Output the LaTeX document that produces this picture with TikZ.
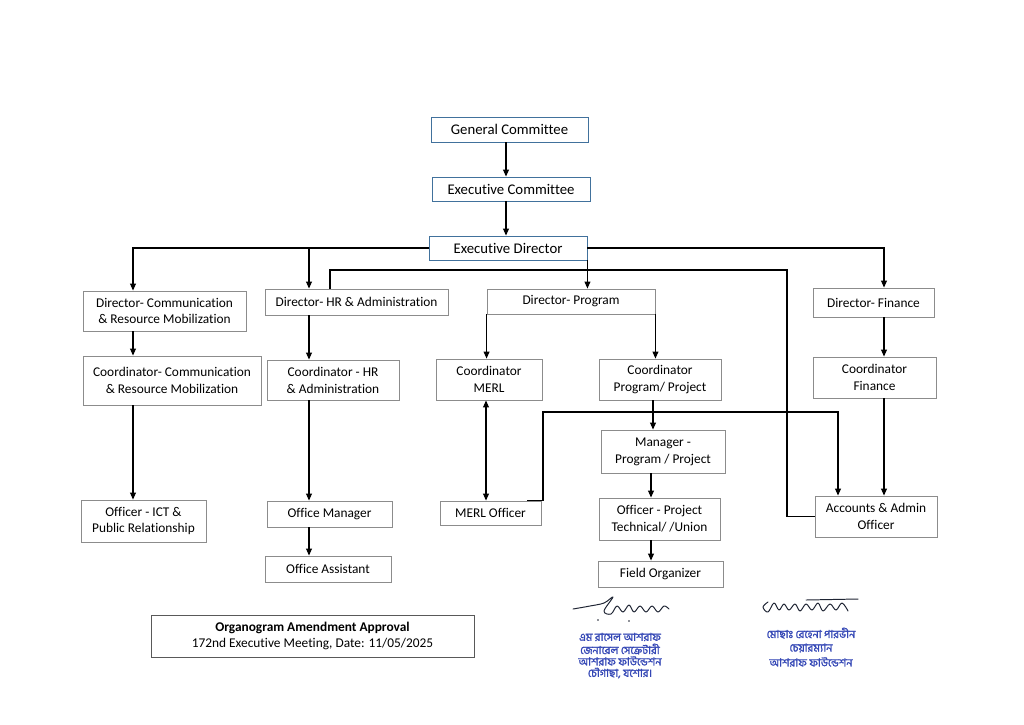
\documentclass[tikz,border=0pt]{standalone}
\usepackage{fontspec}
\setmainfont{Carlito}[Ligatures=NoCommon]
\newfontfamily\bnfont[Script=Bengali, FakeBold=1.6]{Hind Siliguri}
\usetikzlibrary{arrows.meta, positioning, calc}
\definecolor{boxgray}{HTML}{8C8C8C}
\definecolor{boxblue}{HTML}{41719C}
\definecolor{stampblue}{HTML}{3447B5}
\definecolor{inkdark}{HTML}{1E2433}
\tikzset{
  obox/.style={rectangle, draw=#1, line width=0.6pt, inner sep=0pt, align=center,
               font=\fontsize{9.5}{12}\selectfont},
  obox/.default=boxgray,
  topbox/.style={obox=boxblue, font=\fontsize{10.5}{12}\selectfont},
  arr/.style={-{Triangle[length=5pt, width=4.2pt]}, line width=0.8pt, #1},
  arr/.default=black,
  darr/.style={{Triangle[length=5pt, width=4.2pt]}-{Triangle[length=5pt, width=4.2pt]}, line width=0.8pt},
  link/.style={line width=0.8pt},
  sig/.style={draw=inkdark, line width=0.7pt, line cap=round, line join=round},
  stamp/.style={font=\bnfont\fontsize{7.8}{8}\selectfont, text=stampblue, inner sep=0pt},
}

\begin{document}
\begin{tikzpicture}[x=0.025cm, y=-0.025cm]
  \useasboundingbox (0,0) rectangle (1024,724);

  % Top of the organisation
  \node[topbox, minimum width=3.925cm, minimum height=0.625cm] (gc) at (509.5,129.5) {General Committee};
  \node[topbox, minimum width=3.95cm, minimum height=0.6cm] (ec) at (511,189) {Executive Committee};
  \node[topbox, minimum width=3.95cm, minimum height=0.6cm] (ed) at (508,248) {Executive Director};

  % Directors
  \node[obox, minimum width=4.075cm, minimum height=1.0cm] (dcomm) at (164.5,311) {Director- Communication\\ \& Resource Mobilization};
  \node[obox, minimum width=4.575cm, minimum height=0.65cm] (dhr) at (356.5,302) {Director- HR \& Administration};
  \node[obox, minimum width=4.2cm, minimum height=0.625cm] (dprog) at (571,301.5) {Director- Program};
  \node[obox, minimum width=3.025cm, minimum height=0.725cm] (dfin) at (873.5,302.5) {Director- Finance};

  % Coordinators
  \node[obox, minimum width=4.45cm, minimum height=1.225cm] (ccomm) at (172,380.5) {Coordinator- Communication\\ \& Resource Mobilization};
  \node[obox, minimum width=3.3cm, minimum height=1.0cm] (chr) at (333,380) {Coordinator - HR\\ \& Administration};
  \node[obox, minimum width=2.65cm, minimum height=1.025cm] (cmerl) at (489,379.5) {Coordinator\\ MERL};
  \node[obox, minimum width=3.05cm, minimum height=1.025cm] (cprog) at (660,379.5) {Coordinator\\ Program/ Project};
  \node[obox, minimum width=3.075cm, minimum height=1.025cm] (cfin) at (874.5,377.5) {Coordinator\\ Finance};

  % Managers and officers
  \node[obox, minimum width=3.1cm, minimum height=1.075cm] (mprog) at (663,451.5) {Manager -\\ Program / Project};
  \node[obox, minimum width=3.125cm, minimum height=1.05cm] (oict) at (143.5,521) {Officer - ICT \&\\ Public Relationship};
  \node[obox, minimum width=3.125cm, minimum height=0.65cm] (omgr) at (329.5,514) {Office Manager};
  \node[obox, minimum width=2.525cm, minimum height=0.6cm] (merlo) at (490.5,513) {MERL Officer};
  \node[obox, minimum width=3.025cm, minimum height=1.05cm] (oproj) at (659.5,519) {Officer - Project\\ Technical/ /Union};
  \node[obox, minimum width=3.05cm, minimum height=1.025cm] (acc) at (876,516.5) {Accounts \& Admin\\ Officer};
  \node[obox, minimum width=3.15cm, minimum height=0.65cm] (oasst) at (328,569) {Office Assistant};
  \node[obox, minimum width=3.125cm, minimum height=0.65cm] (field) at (660.5,574) {Field Organizer};

  % Approval note
  \node[obox=black!65, minimum width=8.075cm, minimum height=1.05cm] (approval) at (312.5,636)
    {\textbf{Organogram Amendment Approval}\\ 172nd Executive Meeting, Date: 11/05/2025};

  % Columns and bends
  \coordinate (colTop) at (506,0);
  \coordinate (colA) at (133,0);
  \coordinate (colB) at (309,0);
  \coordinate (colC) at (486,0);
  \coordinate (colD) at (653,0);
  \coordinate (colD2) at (651,0);
  \coordinate (colE) at (884,0);
  \coordinate (hrtap) at (330,270);
  \coordinate (accbend) at (787,270);
  \coordinate (merlbend) at (543,412);
  \coordinate (accin) at (838,0);

  % Arrows
  \draw[arr] (gc.south -| colTop) -- (ec.north -| colTop);
  \draw[arr] (ec.south -| colTop) -- (ed.north -| colTop);
  \draw[arr] (ed.west) -| (dcomm.north -| colA);
  \draw[arr] (ed.west -| colB) -- (dhr.north -| colB);
  \draw[arr] (ed.east) -| (dfin.north -| colE);
  \draw[arr] (ed.south east) -- (dprog.north -| ed.south east);
  \draw[link] (dhr.north -| hrtap) |- (accbend) |- (acc.west);

  \draw[arr] (dcomm.south -| colA) -- (ccomm.north -| colA);
  \draw[arr] (dhr.south -| colB) -- (chr.north -| colB);
  \draw[arr] (dprog.south west) -- (cmerl.north -| dprog.south west);
  \draw[arr] (dprog.south east) -- (cprog.north -| dprog.south east);
  \draw[arr] (dfin.south -| colE) -- (cfin.north -| colE);

  \draw[arr] (ccomm.south -| colA) -- (oict.north -| colA);
  \draw[arr] (chr.south -| colB) -- (omgr.north -| colB);
  \draw[arr] (omgr.south -| colB) -- (oasst.north -| colB);
  \draw[darr] (cmerl.south -| colC) -- (merlo.north -| colC);
  \draw[arr] (cprog.south -| colD) -- (mprog.north -| colD);
  \draw[arr] (mprog.south -| colD2) -- (oproj.north -| colD2);
  \draw[arr] (oproj.south -| colD2) -- (field.north -| colD2);
  \draw[arr] ([xshift=-0.35cm]merlo.north east) -| (merlbend) -| (acc.north -| accin);
  \draw[arr] (cfin.south -| colE) -- (acc.north -| colE);

  % Signatures and stamps
  \draw[sig] plot[smooth, tension=0.6] coordinates {(573,609) (590,606) (604,603) (613,597) (604,611) (611,614) (617,606) (623,612) (629,605) (634,612) (640,606) (646,612) (652,606) (658,612) (664,606) (669,609)};
  \fill[inkdark] (598,620) circle (0.8) (629,621) circle (0.8);
  \node[stamp] (stampa1) at (620,637) {এম রাসেল আশরাফ};
  \node[stamp] (stampa2) at (620,649) {জেনারেল সেক্রেটারী};
  \node[stamp] (stampa3) at (620,661) {আশরাফ ফাউন্ডেশন};
  \node[stamp] (stampa4) at (620,673) {চৌগাছা, যশোর।};

  \draw[sig] plot[smooth, tension=0.6] coordinates {(768,602) (763,607) (768,612) (774,603) (779,610) (784,604) (789,610) (795,604) (800,611) (806,604) (812,610) (818,603) (823,611) (830,604) (836,610) (842,603) (848,611)};
  \draw[sig] (806,600) -- (858,599);
  \node[stamp] (stampb1) at (811,633) {মোছাঃ রেহেনা পারভীন};
  \node[stamp] (stampb2) at (811,648) {চেয়ারম্যান};
  \node[stamp] (stampb3) at (811,662) {আশরাফ ফাউন্ডেশন};
\end{tikzpicture}
\end{document}
